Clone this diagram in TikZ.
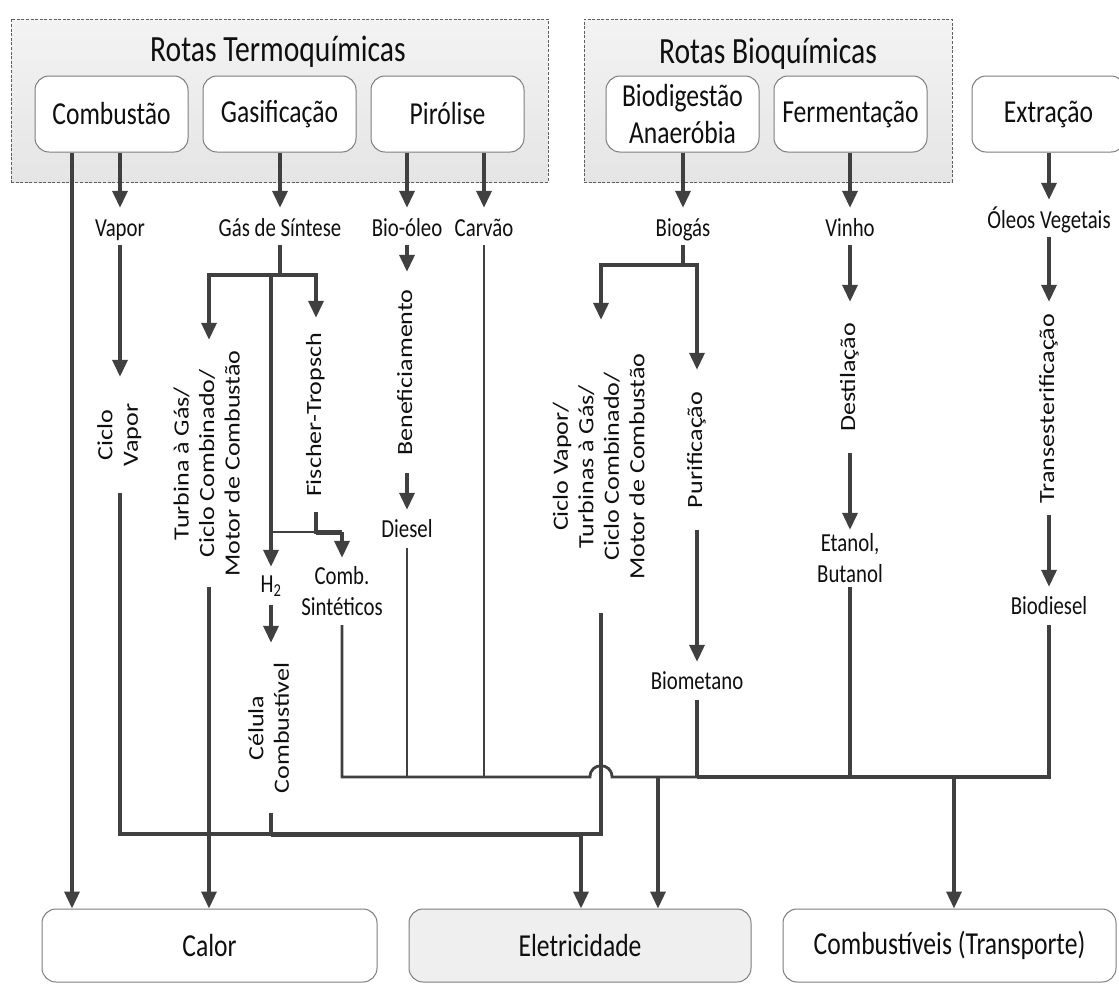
\documentclass[tikz,border=0pt]{standalone}
\usepackage{fontspec}
\usepackage{graphicx}
\setmainfont{Carlito}
\newfontfamily\hf[FakeStretch=0.8]{Carlito}
\newfontfamily\vf[FakeStretch=1.2]{Carlito}
\usetikzlibrary{arrows.meta,calc}
\definecolor{lc}{RGB}{64,64,64}
\definecolor{txt}{RGB}{15,15,15}
\definecolor{boxgray}{RGB}{125,125,125}
\definecolor{grpline}{RGB}{95,95,95}
\definecolor{grptop}{RGB}{243,243,243}
\definecolor{grpbot}{RGB}{229,229,229}
\definecolor{elfill}{RGB}{239,239,239}
\newcommand{\rottxt}[1]{\rotatebox{90}{\vf\fontsize{21.7}{25.5}\selectfont\begin{tabular}{@{}c@{}}#1\end{tabular}}}
\tikzset{
  grp/.style={draw=grpline, dash pattern=on 3pt off 1.6pt, line width=0.8pt,
    top color=grptop, bottom color=grpbot, inner sep=0pt},
  ttl/.style={font=\hf\fontsize{37}{44}\selectfont, text=txt, anchor=base, inner sep=0pt},
  box/.style={draw=boxgray, line width=1pt, rounded corners=14pt, fill=white,
    minimum width=153pt, minimum height=76pt, inner sep=0pt,
    font=\hf\fontsize{32}{37}\selectfont, text=txt, align=center},
  outbox/.style={box, minimum height=73pt},
  toplbl/.style={font=\hf\fontsize{26}{31}\selectfont, text=txt, anchor=base,
    text height=19pt, text depth=0pt, inner xsep=2pt, inner ysep=9pt},
  mid/.style={font=\hf\fontsize{26}{31}\selectfont, text=txt, inner sep=0pt, align=center},
  arr/.style={draw=lc, line width=3.5pt, -{Triangle[length=17pt,width=15pt]}},
  thk/.style={draw=lc, line width=3.5pt},
  thn/.style={draw=lc, line width=2.8pt},
}
\begin{document}
\begin{tikzpicture}[x=1pt,y=-1pt]
\useasboundingbox (0,0) rectangle (1119,983);

% group boxes
\node[grp, minimum width=537pt, minimum height=163pt] (thermo) at (279.5,100.5) {};
\node[grp, minimum width=368pt, minimum height=163pt] (bioq) at (768,100.5) {};
\node[ttl] (tthermo) at (278,61) {Rotas Termoquímicas};
\node[ttl] (tbio) at (768,63) {Rotas Bioquímicas};

% top boxes
\node[box] (comb) at (111.5,114) {Combustão};
\node[box] (gas) at (279.5,114) {Gasificação};
\node[box] (pir) at (447.5,114) {Pirólise};
\node[box] (biod) at (682.5,114) {Biodigestão\\Anaeróbia};
\node[box] (ferm) at (850.5,114) {Fermentação};
\node[box] (extr) at (1048.5,114) {Extração};

% first-level labels
\node[toplbl] (vapor) at (120,236) {Vapor};
\node[toplbl] (gds) at (280,236) {Gás de Síntese};
\node[toplbl] (bioleo) at (407,236) {Bio-óleo};
\node[toplbl] (carvao) at (484,236) {Carvão};
\node[toplbl] (biogas) at (683,236) {Biogás};
\node[toplbl] (vinho) at (850,236) {Vinho};
\node[toplbl] (oleos) at (1049,228) {Óleos Vegetais};

% middle labels
\node[mid, minimum height=116pt] (cv) at (120,435) {\rottxt{Ciclo\\Vapor}};
\node[mid, minimum height=247pt] (turb) at (209,463.5) {\rottxt{Turbina à Gás/\\Ciclo Combinado/\\Motor de Combustão}};
\node[mid, minimum height=194pt] (ft) at (316,415) {\rottxt{Fischer-Tropsch}};
\node[mid, minimum height=38pt] (h2) at (271,586) {H\textsubscript{2}};
\node[mid, minimum height=170pt] (cel) at (271,728) {\rottxt{Célula\\Combustível}};
\node[mid, minimum height=67pt] (cs) at (342,591.5) {Comb.\\Sintéticos};
\node[mid, minimum height=201pt] (benef) at (407,372.5) {\rottxt{Beneficiamento}};
\node[mid, minimum height=38pt] (diesel) at (407,529) {Diesel};
\node[mid, minimum height=293pt] (cvt) at (601,466.5) {\rottxt{Ciclo Vapor/\\Turbinas à Gás/\\Ciclo Combinado/\\Motor de Combustão}};
\node[mid, minimum height=160pt] (pur) at (697,450) {\rottxt{Purificação}};
\node[mid, minimum height=38pt] (biomet) at (697,681) {Biometano};
\node[mid, minimum height=151pt] (dest) at (850,377.5) {\rottxt{Destilação}};
\node[mid, minimum height=57pt] (etanol) at (850,558.5) {Etanol,\\Butanol};
\node[mid, minimum height=213pt] (trans) at (1049,408.5) {\rottxt{Transesterificação}};
\node[mid, minimum height=38pt] (biodsl) at (1049,606) {Biodiesel};

% bottom boxes
\node[outbox, minimum width=335pt] (calor) at (209.5,945.5) {Calor};
\node[outbox, minimum width=342pt, fill=elfill] (elec) at (580,945.5) {Eletricidade};
\node[outbox, minimum width=333pt] (fuel) at (949.5,945.5) {Combustíveis (Transporte)};

% junction coordinates
\coordinate (cL) at ([xshift=-39.5pt]comb.south);
\coordinate (gj) at (280,275);
\coordinate (cj) at (342,532);
\coordinate (bj) at (683,265);
\coordinate (ebus) at (581,834);
\coordinate (fbus) at (658,777);
\coordinate (tbus) at (954,777);
\coordinate (hopL) at (590,777);
\coordinate (hopR) at (612,777);

% top arrows
\draw[arr] (cL) -- (cL |- calor.north);
\draw[arr] (vapor.north |- comb.south) -- (vapor.north);
\draw[arr] (gds.north |- gas.south) -- (gds.north);
\draw[arr] (bioleo.north |- pir.south) -- (bioleo.north);
\draw[arr] (carvao.north |- pir.south) -- (carvao.north);
\draw[arr] (biogas.north |- biod.south) -- (biogas.north);
\draw[arr] (vinho.north |- ferm.south) -- (vinho.north);
\draw[arr] (oleos.north |- extr.south) -- (oleos.north);

% combustion / vapor
\draw[arr] (vapor.south) -- (cv.north);

% gasification
\draw[thk] (gds.south) -- (gj);
\draw[arr] (gj) -| (turb.north);
\draw[arr] (gj) -| (ft.north);
\draw[arr] (gj) -| (h2.north);
\draw[thn] (h2.north |- cj) -- (cj);
\draw[thk] (ft.south) |- (cj);
\draw[draw=lc, line width=5pt] (ft.south |- cj) -- (cj);
\draw[arr] (cj) -- (cs.north);
\draw[arr] (h2.south) -- (cel.north);
\draw[arr] (turb.south) -- (turb.south |- calor.north);

% pyrolysis
\draw[arr] (bioleo.south) -- (benef.north);
\draw[arr] (benef.south) -- (diesel.north);

% biogas
\draw[thk] (biogas.south) -- (bj);
\draw[arr] (bj) -| (cvt.north);
\draw[arr] (bj) -| (pur.north);
\draw[arr] (pur.south) -- (biomet.north);

% fermentation
\draw[arr] (vinho.south) -- (dest.north);
\draw[arr] (dest.south) -- (etanol.north);

% extraction
\draw[arr] (oleos.south) -- (trans.north);
\draw[arr] (trans.south) -- (biodsl.north);

% fuel bus
\draw[thn] (cs.south) |- (hopL) .. controls +(0,-15) and +(0,-15) .. (hopR) -- (biomet.south |- hopR);
\draw[thk] (biomet.south |- hopR) -- (biodsl.south |- hopR) -- (biodsl.south);
\draw[thn] (diesel.south) -- (diesel.south |- hopL);
\draw[thn] (carvao.south) -- (carvao.south |- hopL);
\draw[thk] (biomet.south) -- (biomet.south |- hopR);
\draw[thk] (etanol.south) -- (etanol.south |- hopR);
\draw[arr] (fbus) -- (fbus |- elec.north);
\draw[arr] (tbus) -- (tbus |- fuel.north);

% electricity bus
\draw[thk] (cv.south) |- (ebus);
\draw[thk] (cel.south) -- (cel.south |- ebus);
\draw[draw=lc, line width=5pt] (cel.south |- ebus) -- (ebus);
\draw[thk] (cvt.south) |- (ebus);
\draw[arr] (ebus) -- (ebus |- elec.north);
\end{tikzpicture}
\end{document}
